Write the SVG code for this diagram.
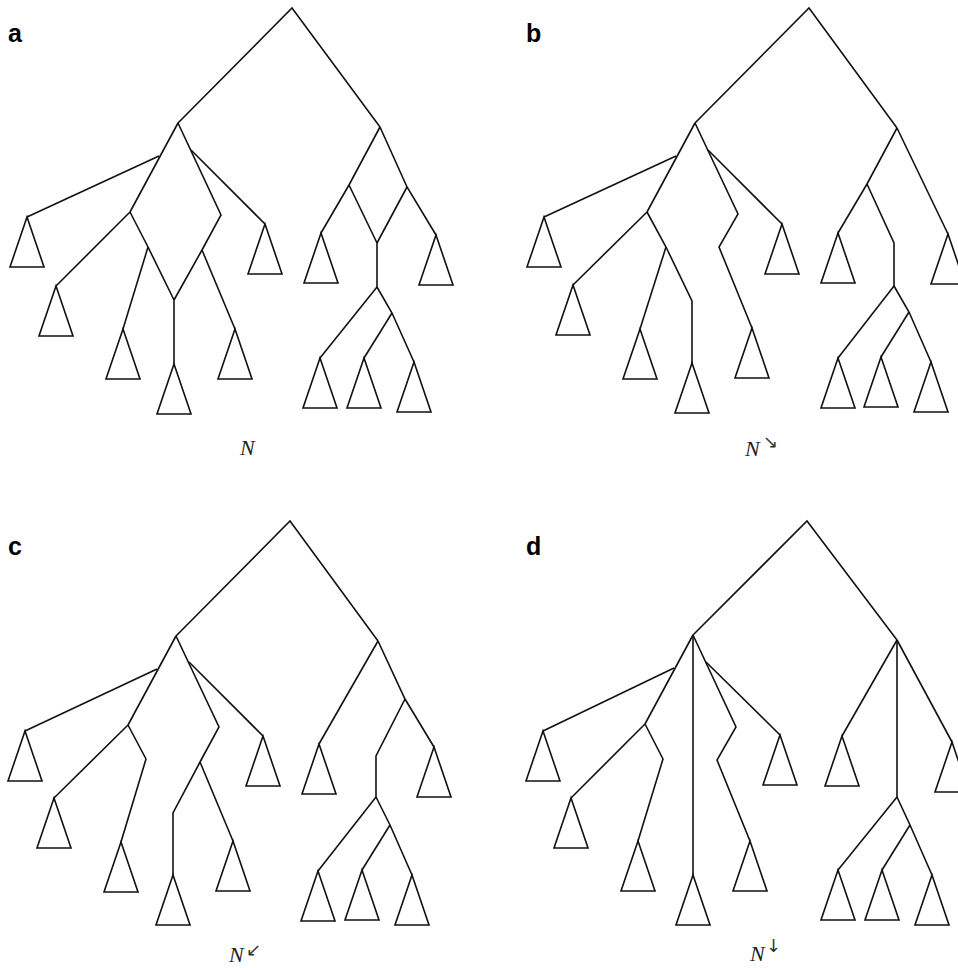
<svg xmlns="http://www.w3.org/2000/svg" xmlns:xlink="http://www.w3.org/1999/xlink" width="958" height="968" viewBox="0 0 958 968">
<style>
.e{fill:none;stroke:#111;stroke-width:1.6;stroke-linejoin:miter}
.t{fill:#fff;stroke:#111;stroke-width:1.6}
.pl{font-family:"Liberation Sans",Arial,sans-serif;font-weight:bold;font-size:25px;fill:#000}
.nl{font-family:"Liberation Serif","Times New Roman",serif;font-style:italic;font-size:22px;fill:#222}
.ar{font-family:"DejaVu Sans",sans-serif;font-size:18px;fill:#333}
</style>
<defs>
<path id="tri" d="M0,0 L17,50 L-17,50 Z"/>
</defs>
<rect width="958" height="968" fill="#fff"/>
<g id="labels">
<text class="pl" x="8" y="42">a</text>
<text class="pl" x="526" y="42">b</text>
<text class="pl" x="8" y="555">c</text>
<text class="pl" x="526" y="555">d</text>
<text class="nl" x="240" y="455">N</text>
<text class="nl" x="745" y="456">N</text><text class="ar" x="763" y="448">↘</text>
<text class="nl" x="229" y="962">N</text><text class="ar" x="246" y="956">↙</text>
<text class="nl" x="750" y="961">N</text><text class="ar" x="766" y="952">↓</text>
</g>
<g id="connectors">
<!-- panel a -->
<polyline class="e" points="178,123 292,8 380,127"/>
<polyline class="e" points="178,123 130,212"/>
<polyline class="e" points="159,156 27,217"/>
<polyline class="e" points="130,212 56,286"/>
<polyline class="e" points="130,212 148,247 174,300"/>
<polyline class="e" points="148,247 123,329"/>
<polyline class="e" points="178,123 221,215 202,250 174,300"/>
<polyline class="e" points="191,150 265,224"/>
<polyline class="e" points="202,250 235,329"/>
<polyline class="e" points="174,300 174,364"/>
<polyline class="e" points="380,127 349,185 321,233"/>
<polyline class="e" points="349,185 377,243"/>
<polyline class="e" points="380,127 407,187 436,235"/>
<polyline class="e" points="407,187 377,243"/>
<polyline class="e" points="377,243 377,287"/>
<polyline class="e" points="377,287 320,358"/>
<polyline class="e" points="377,287 392,313 414,362"/>
<polyline class="e" points="392,313 364,358"/>
<!-- panel b -->
<polyline class="e" points="695,123 809,8 897,128"/>
<polyline class="e" points="695,123 647,212"/>
<polyline class="e" points="676,156 544,217"/>
<polyline class="e" points="647,212 573,285"/>
<polyline class="e" points="647,212 666,247 692,301 692,363"/>
<polyline class="e" points="666,247 640,329"/>
<polyline class="e" points="695,123 738,214 719,247 752,328"/>
<polyline class="e" points="708,150 782,224"/>
<polyline class="e" points="897,128 867,184 838,233"/>
<polyline class="e" points="867,184 894,243 894,286"/>
<polyline class="e" points="897,128 948,234"/>
<polyline class="e" points="894,286 838,358"/>
<polyline class="e" points="894,286 909,312 931,362"/>
<polyline class="e" points="909,312 881,357"/>
<!-- panel c -->
<polyline class="e" points="176,636 290,521 378,641"/>
<polyline class="e" points="176,636 128,725"/>
<polyline class="e" points="157,669 25,731"/>
<polyline class="e" points="128,725 54,798"/>
<polyline class="e" points="128,725 146,759 121,842"/>
<polyline class="e" points="176,636 219,727 200,762 173,813 173,875"/>
<polyline class="e" points="189,662 263,736"/>
<polyline class="e" points="200,762 233,841"/>
<polyline class="e" points="378,641 319,744"/>
<polyline class="e" points="378,641 405,699 434,747"/>
<polyline class="e" points="405,699 376,756 376,797"/>
<polyline class="e" points="376,797 318,871"/>
<polyline class="e" points="376,797 390,825 412,875"/>
<polyline class="e" points="390,825 362,870"/>
<!-- panel d -->
<polyline class="e" points="693,635 807,521 897,640"/>
<polyline class="e" points="693,635 645,724"/>
<polyline class="e" points="674,668 543,731"/>
<polyline class="e" points="645,724 571,798"/>
<polyline class="e" points="645,724 663,759 638,841"/>
<polyline class="e" points="693,635 693,875"/>
<polyline class="e" points="693,635 736,727 717,760 750,841"/>
<polyline class="e" points="706,662 780,735"/>
<polyline class="e" points="897,640 842,736"/>
<polyline class="e" points="897,640 897,797"/>
<polyline class="e" points="897,640 952,742"/>
<polyline class="e" points="897,797 838,870"/>
<polyline class="e" points="897,797 910,825 932,875"/>
<polyline class="e" points="910,825 882,870"/>
</g>
<g id="panel-a">
<g id="a-t1"><use xlink:href="#tri" class="t" x="27" y="217"/></g>
<g id="a-t2"><use xlink:href="#tri" class="t" x="56" y="286"/></g>
<g id="a-t3"><use xlink:href="#tri" class="t" x="123" y="329"/></g>
<g id="a-t4"><use xlink:href="#tri" class="t" x="174" y="364"/></g>
<g id="a-t5"><use xlink:href="#tri" class="t" x="235" y="329"/></g>
<g id="a-t6"><use xlink:href="#tri" class="t" x="265" y="224"/></g>
<g id="a-t7"><use xlink:href="#tri" class="t" x="321" y="233"/></g>
<g id="a-t8"><use xlink:href="#tri" class="t" x="436" y="235"/></g>
<g id="a-t9"><use xlink:href="#tri" class="t" x="320" y="358"/></g>
<g id="a-t10"><use xlink:href="#tri" class="t" x="364" y="358"/></g>
<g id="a-t11"><use xlink:href="#tri" class="t" x="414" y="362"/></g>
</g>
<g id="panel-b">
<g id="b-t1"><use xlink:href="#tri" class="t" x="544" y="217"/></g>
<g id="b-t2"><use xlink:href="#tri" class="t" x="573" y="285"/></g>
<g id="b-t3"><use xlink:href="#tri" class="t" x="640" y="329"/></g>
<g id="b-t4"><use xlink:href="#tri" class="t" x="692" y="363"/></g>
<g id="b-t5"><use xlink:href="#tri" class="t" x="752" y="328"/></g>
<g id="b-t6"><use xlink:href="#tri" class="t" x="782" y="224"/></g>
<g id="b-t7"><use xlink:href="#tri" class="t" x="838" y="233"/></g>
<g id="b-t8"><use xlink:href="#tri" class="t" x="948" y="234"/></g>
<g id="b-t9"><use xlink:href="#tri" class="t" x="838" y="358"/></g>
<g id="b-t10"><use xlink:href="#tri" class="t" x="881" y="357"/></g>
<g id="b-t11"><use xlink:href="#tri" class="t" x="931" y="362"/></g>
</g>
<g id="panel-c">
<g id="c-t1"><use xlink:href="#tri" class="t" x="25" y="731"/></g>
<g id="c-t2"><use xlink:href="#tri" class="t" x="54" y="798"/></g>
<g id="c-t3"><use xlink:href="#tri" class="t" x="121" y="842"/></g>
<g id="c-t4"><use xlink:href="#tri" class="t" x="173" y="875"/></g>
<g id="c-t5"><use xlink:href="#tri" class="t" x="233" y="841"/></g>
<g id="c-t6"><use xlink:href="#tri" class="t" x="263" y="736"/></g>
<g id="c-t7"><use xlink:href="#tri" class="t" x="319" y="744"/></g>
<g id="c-t8"><use xlink:href="#tri" class="t" x="434" y="747"/></g>
<g id="c-t9"><use xlink:href="#tri" class="t" x="318" y="871"/></g>
<g id="c-t10"><use xlink:href="#tri" class="t" x="362" y="870"/></g>
<g id="c-t11"><use xlink:href="#tri" class="t" x="412" y="875"/></g>
</g>
<g id="panel-d">
<g id="d-t1"><use xlink:href="#tri" class="t" x="543" y="731"/></g>
<g id="d-t2"><use xlink:href="#tri" class="t" x="571" y="798"/></g>
<g id="d-t3"><use xlink:href="#tri" class="t" x="638" y="841"/></g>
<g id="d-t4"><use xlink:href="#tri" class="t" x="693" y="875"/></g>
<g id="d-t5"><use xlink:href="#tri" class="t" x="750" y="841"/></g>
<g id="d-t6"><use xlink:href="#tri" class="t" x="780" y="735"/></g>
<g id="d-t7"><use xlink:href="#tri" class="t" x="842" y="736"/></g>
<g id="d-t8"><use xlink:href="#tri" class="t" x="952" y="742"/></g>
<g id="d-t9"><use xlink:href="#tri" class="t" x="838" y="870"/></g>
<g id="d-t10"><use xlink:href="#tri" class="t" x="882" y="870"/></g>
<g id="d-t11"><use xlink:href="#tri" class="t" x="932" y="875"/></g>
</g>
</svg>
